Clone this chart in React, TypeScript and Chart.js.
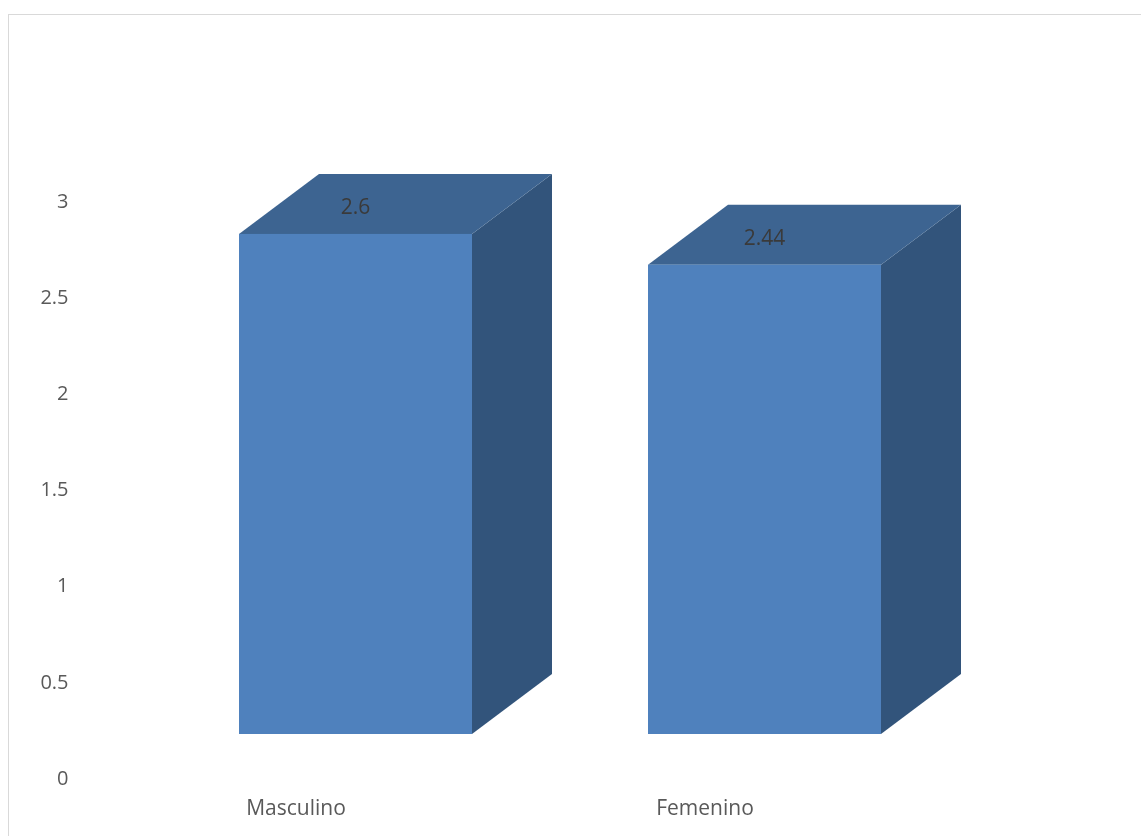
import React, { useEffect, useRef } from "react";
import { Chart, registerables } from "chart.js";

Chart.register(...registerables);

const categories: string[] = ["Masculino", "Femenino"];
const values: number[] = [2.6, 2.44];
const dataLabels: string[] = ["2.6", "2.44"];
const yTicks: number[] = [0, 0.5, 1, 1.5, 2, 2.5, 3];

const FRONT = "#4f81bd";
const TOP = "#3d6491";
const SIDE = "#32547b";
const DEPTH_X = 80;
const DEPTH_Y = 60;
const LIFT = 45;
const SHIFT = 59.5;
const FONT = "'Open Sans', 'DejaVu Sans', sans-serif";

const box3d = {
  id: "box3d",
  afterDatasetsDraw(chart: any) {
    const ctx = chart.ctx as CanvasRenderingContext2D;
    const meta = chart.getDatasetMeta(0);
    meta.data.forEach((el: any, i: number) => {
      const { x, y, base, width } = el.getProps(["x", "y", "base", "width"], true);
      const cx = x + SHIFT;
      const x0 = cx - width / 2;
      const x1 = cx + width / 2;
      const yt = y - LIFT;
      const yb = base - LIFT;
      ctx.save();
      // side face
      ctx.fillStyle = SIDE;
      ctx.beginPath();
      ctx.moveTo(x1, yt);
      ctx.lineTo(x1 + DEPTH_X, yt - DEPTH_Y);
      ctx.lineTo(x1 + DEPTH_X, yb - DEPTH_Y);
      ctx.lineTo(x1, yb);
      ctx.closePath();
      ctx.fill();
      // top face
      ctx.fillStyle = TOP;
      ctx.beginPath();
      ctx.moveTo(x0, yt);
      ctx.lineTo(x0 + DEPTH_X, yt - DEPTH_Y);
      ctx.lineTo(x1 + DEPTH_X, yt - DEPTH_Y);
      ctx.lineTo(x1, yt);
      ctx.closePath();
      ctx.fill();
      // front face
      ctx.fillStyle = FRONT;
      ctx.fillRect(x0, yt, width, yb - yt);
      // data label
      ctx.fillStyle = "#3a3a3a";
      ctx.font = `21px ${FONT}`;
      ctx.textAlign = "center";
      ctx.textBaseline = "middle";
      ctx.fillText(dataLabels[i], cx, yt - 26);
      ctx.restore();
    });
  },
};

export default function App() {
  const ref = useRef<HTMLCanvasElement | null>(null);

  useEffect(() => {
    if (!ref.current) return;
    const chart = new Chart(ref.current, {
      type: "bar",
      data: {
        labels: categories,
        datasets: [
          {
            data: values,
            backgroundColor: "rgba(0,0,0,0)",
            borderWidth: 0,
            barPercentage: 233 / 409,
            categoryPercentage: 1,
          },
        ],
      },
      options: {
        responsive: false,
        animation: false,
        devicePixelRatio: 1,
        layout: { padding: { top: 202, right: 231.5, left: 0, bottom: 0 } },
        plugins: {
          legend: { display: false },
          tooltip: { enabled: false },
        },
        scales: {
          x: {
            grid: { display: false, drawTicks: false },
            border: { display: false },
            ticks: {
              color: "#595959",
              font: { family: FONT, size: 21 },
              padding: 17,
            },
            afterFit: (s: any) => {
              s.height = 57;
            },
          },
          y: {
            min: 0,
            max: 3,
            grid: { display: false, drawTicks: false },
            border: { display: false },
            ticks: {
              color: "#595959",
              font: { family: FONT, size: 20 },
              padding: 23,
              callback: (v: any) => String(v),
            },
            afterBuildTicks: (s: any) => {
              s.ticks = yTicks.map((v) => ({ value: v }));
            },
            afterFit: (s: any) => {
              s.width = 91.5;
            },
          },
        },
      },
      plugins: [box3d],
    });
    return () => chart.destroy();
  }, []);

  return (
    <div style={{ position: "fixed", left: 0, top: 0, width: 1141, height: 836, overflow: "hidden", background: "#fff" }}>
      <canvas ref={ref} width={1141} height={836} style={{ position: "absolute", left: 0, top: 0, width: 1141, height: 836 }} />
      <div
        style={{
          position: "absolute",
          left: 8,
          top: 14,
          right: 0,
          bottom: 0,
          borderTop: "1px solid #d9d9d9",
          borderLeft: "1px solid #d9d9d9",
          pointerEvents: "none",
        }}
      />
    </div>
  );
}
